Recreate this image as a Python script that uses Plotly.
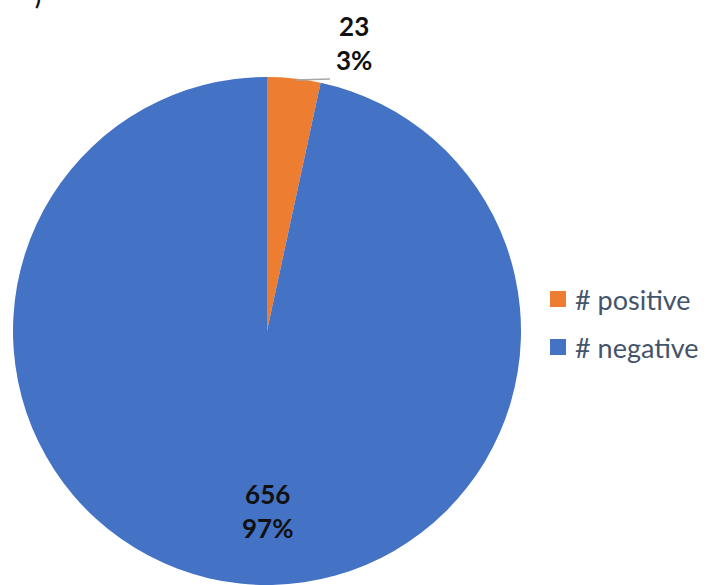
import plotly.graph_objects as go

labels = ["# positive", "# negative"]
values = [23, 656]
colors = ["#ED7D31", "#4472C4"]

W, H = 707, 585
total = sum(values)
pcts = [round(v / total * 100) for v in values]

fig = go.Figure()
fig.add_trace(go.Pie(
    labels=labels, values=values, sort=False, direction="clockwise", rotation=0,
    marker=dict(colors=colors, line=dict(width=0)),
    textinfo="none", showlegend=False, hoverinfo="label+value+percent",
    domain=dict(x=[13 / W, 521 / W], y=[0, 1 - 77 / H]),
))

def px(x):
    return x / W

def py(y):
    return 1 - y / H

label_pos = [(354, 43), (267, 511)]
anns = []
for v, p, (x, y) in zip(values, pcts, label_pos):
    anns.append(dict(x=px(x), y=py(y), xref="paper", yref="paper", showarrow=False,
                     text=f"<b>{v}</b><br><b>{p}%</b>", align="center",
                     font=dict(family="Lato", size=26, color="#111111"),
                     xanchor="center", yanchor="middle"))
# legend (manual, for spacing)
leg_y = [299, 347]
shapes = []
for lab, c, y in zip(labels, colors, leg_y):
    shapes.append(dict(type="rect", xref="paper", yref="paper",
                       x0=px(550), x1=px(566), y0=py(y + 8), y1=py(y - 8),
                       fillcolor=c, line=dict(width=0)))
    anns.append(dict(x=px(573), y=py(y), xref="paper", yref="paper", showarrow=False,
                     text=lab, xanchor="left", yanchor="middle",
                     font=dict(family="Lato", size=27, color="#44546A")))
# leader line
shapes.append(dict(type="line", xref="paper", yref="paper",
                   x0=px(296), x1=px(330), y0=py(80), y1=py(79),
                   line=dict(color="#A6A6A6", width=1.5)))
anns.append(dict(x=px(38), y=py(-4), xref="paper", yref="paper", showarrow=False,
                 text="<b>)</b>", xanchor="center", yanchor="middle",
                 font=dict(family="Lato", size=22, color="#111111")))

fig.update_layout(
    width=W, height=H, margin=dict(l=0, r=0, t=0, b=0),
    paper_bgcolor="white", plot_bgcolor="white",
    annotations=anns, shapes=shapes,
)
fig.write_html("out.html")
